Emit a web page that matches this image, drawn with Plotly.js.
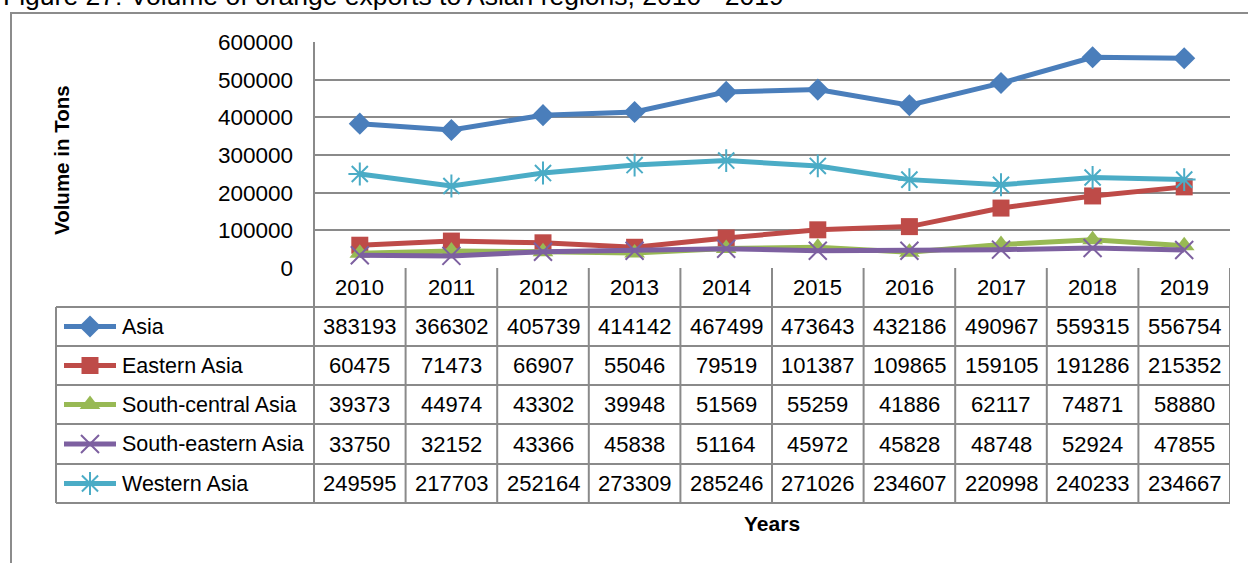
<!DOCTYPE html>
<html>
<head>
<meta charset="utf-8">
<script src="https://cdn.plot.ly/plotly-3.0.1.min.js"></script>
<style>html,body{margin:0;padding:0;background:#fff;}#chart{width:1248px;height:563px;}</style>
</head>
<body>
<div id="chart"></div>
<script>
// ---- data ----
const years = ["2010","2011","2012","2013","2014","2015","2016","2017","2018","2019"];
const seriesNames = ["Asia","Eastern Asia","South-central Asia","South-eastern Asia","Western Asia"];
const asia = [383193,366302,405739,414142,467499,473643,432186,490967,559315,556754];
const easternAsia = [60475,71473,66907,55046,79519,101387,109865,159105,191286,215352];
const southCentralAsia = [39373,44974,43302,39948,51569,55259,41886,62117,74871,58880];
const southEasternAsia = [33750,32152,43366,45838,51164,45972,45828,48748,52924,47855];
const westernAsia = [249595,217703,252164,273309,285246,271026,234607,220998,240233,234667];
const yTicks = [0,100000,200000,300000,400000,500000,600000];
const titleText = "Figure 27: Volume of orange exports to Asian regions, 2010 - 2019";
const yTitle = "Volume in Tons";
const xTitle = "Years";

// ---- styles ----
const W = 1248, H = 563;
const px = x => x / W, py = y => 1 - y / H;
const yearNums = years.map(Number);
const seriesData = [asia, easternAsia, southCentralAsia, southEasternAsia, westernAsia];
const styles = [
  {color:"#4A7EBB", symbol:"diamond", size:17, open:false},
  {color:"#BE4B48", symbol:"square", size:17, open:false},
  {color:"#98B954", symbol:"triangle-up", size:18, open:false},
  {color:"#7D60A0", symbol:"x-thin-open", size:18, open:true},
  {color:"#4BACC6", symbol:"asterisk-open", size:19, open:true}
];
const gridColor = "#8A8A8A";
const plotL = 314, plotR = 1230, plotT = 42, plotB = 268;
const rowEdges = [268, 307, 346, 385, 424, 464, 503];
const legendL = 56;
const fam = "'Liberation Sans',Arial,sans-serif";
const tableFont = {family:fam, size:22, color:"#000"};

const traces = [];
seriesData.forEach((vals, i) => {
  const s = styles[i];
  traces.push({
    type:"scatter", mode:"lines+markers", x:yearNums, y:vals, name:seriesNames[i],
    line:{color:s.color, width:5},
    marker:{symbol:s.symbol, size:s.size, color:s.color, opacity:1, line:{color:s.color, width:s.open?2:0}},
    cliponaxis:false, showlegend:false, hoverinfo:"skip"
  });
});
// legend keys in the table's first column (own small subplot, pixel units)
seriesData.forEach((vals, i) => {
  const s = styles[i];
  const yc = (rowEdges[i+1] + rowEdges[i+2]) / 2;
  traces.push({
    type:"scatter", mode:"lines", x:[64,116], y:[yc,yc], xaxis:"x2", yaxis:"y2",
    line:{color:s.color, width:5}, cliponaxis:false, showlegend:false, hoverinfo:"skip"
  });
  traces.push({
    type:"scatter", mode:"markers", x:[90], y:[yc], xaxis:"x2", yaxis:"y2",
    marker:{symbol:s.symbol, size:s.size, color:s.color, opacity:1, line:{color:s.color, width:s.open?2:0}},
    cliponaxis:false, showlegend:false, hoverinfo:"skip"
  });
});

const shapes = [];
const lineStyle = {color:gridColor, width:2};
shapes.push({type:"path", xref:"paper", yref:"paper",
  path:`M ${px(11)} ${py(563)} L ${px(11)} ${py(13)} L ${px(1248)} ${py(13)}`,
  line:{color:"#8C8C8C", width:2}});
shapes.push({type:"line", xref:"paper", yref:"paper", x0:px(plotL), x1:px(plotL), y0:py(plotT), y1:py(rowEdges[6]), line:lineStyle});
yearNums.forEach(yn => {
  shapes.push({type:"line", xref:"x", yref:"paper", x0:yn+0.5, x1:yn+0.5, y0:py(rowEdges[0]), y1:py(rowEdges[6]), line:lineStyle});
});
rowEdges.forEach((y, k) => {
  if (k === 0) return;
  shapes.push({type:"line", xref:"paper", yref:"paper", x0:px(legendL), x1:px(plotR), y0:py(y), y1:py(y), line:lineStyle});
});
shapes.push({type:"line", xref:"paper", yref:"paper", x0:px(legendL), x1:px(legendL), y0:py(rowEdges[1]), y1:py(rowEdges[6]), line:lineStyle});

const annotations = [];
annotations.push({text:titleText, xref:"paper", yref:"paper", x:px(1), y:py(13), xanchor:"left", yanchor:"bottom",
  showarrow:false, font:{family:fam, size:26.5, color:"#000"}});
years.forEach((yr, j) => {
  annotations.push({text:yr, xref:"x", yref:"paper", x:yearNums[j], y:py((rowEdges[0]+rowEdges[1])/2),
    xanchor:"center", yanchor:"middle", showarrow:false, font:tableFont});
});
seriesData.forEach((vals, i) => {
  const yc = py((rowEdges[i+1] + rowEdges[i+2]) / 2);
  annotations.push({text:seriesNames[i], xref:"paper", yref:"paper", x:px(120), y:yc, xanchor:"left", yanchor:"middle", showarrow:false, font:{family:fam, size:21.5, color:"#000"}});
  vals.forEach((v, j) => {
    annotations.push({text:String(v), xref:"x", yref:"paper", x:yearNums[j], y:yc, xanchor:"center", yanchor:"middle", showarrow:false, font:tableFont});
  });
});
annotations.push({text:"<b>"+yTitle+"</b>", xref:"paper", yref:"paper", x:px(61), y:py(160), textangle:-90, showarrow:false,
  xanchor:"center", yanchor:"middle", font:{family:fam, size:20.5, color:"#000"}});
annotations.push({text:"<b>"+xTitle+"</b>", xref:"paper", yref:"paper", x:px(772), y:py(523), showarrow:false,
  xanchor:"center", yanchor:"middle", font:{family:fam, size:21, color:"#000"}});

const layout = {
  width:W, height:H, margin:{l:0,r:0,t:0,b:0}, paper_bgcolor:"#fff", plot_bgcolor:"rgba(0,0,0,0)",
  showlegend:false,
  xaxis:{domain:[px(plotL), px(plotR)], range:[yearNums[0]-0.5, yearNums[yearNums.length-1]+0.5], showticklabels:false,
    showgrid:false, zeroline:false, showline:false, ticks:"", fixedrange:true},
  yaxis:{domain:[py(plotB), py(plotT)], range:[0, 600000], tickvals:yTicks, tickformat:"d",
    showgrid:true, gridcolor:gridColor, gridwidth:2, zeroline:false, showline:false, ticks:"",
    ticklabelstandoff:20,
    tickfont:{family:fam, size:22.5, color:"#000"}, fixedrange:true},
  xaxis2:{domain:[0, px(plotL)], range:[0, plotL], visible:false, anchor:"y2", fixedrange:true},
  yaxis2:{domain:[py(rowEdges[6]), py(rowEdges[1])], range:[rowEdges[6], rowEdges[1]], visible:false, anchor:"x2", fixedrange:true},
  shapes:shapes, annotations:annotations
};
Plotly.newPlot("chart", traces, layout, {displayModeBar:false, staticPlot:true});
</script>
</body>
</html>
